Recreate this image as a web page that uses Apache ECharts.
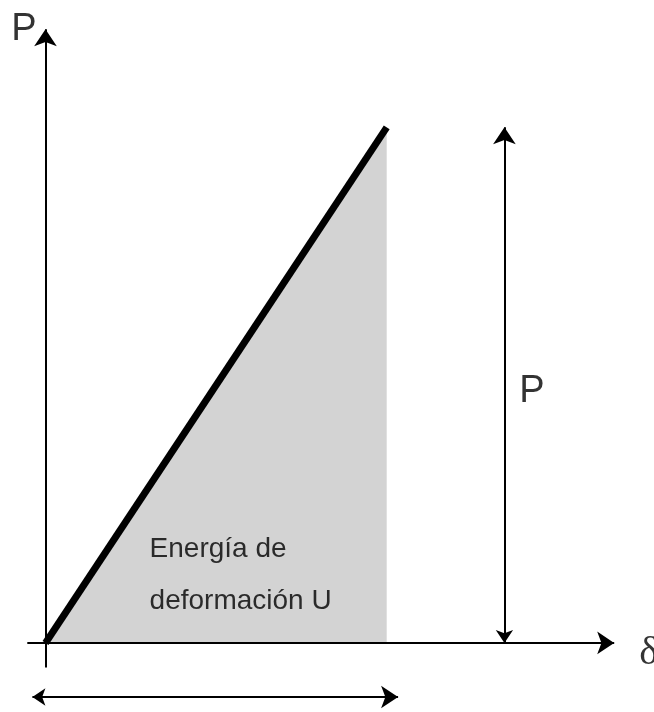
<!DOCTYPE html>
<html>
<head>
<meta charset="utf-8">
<script src="https://cdn.jsdelivr.net/npm/echarts@6/dist/echarts.min.js"></script>
<style>
  html, body { margin: 0; padding: 0; background: #fff; }
  #chart { width: 654px; height: 712px; }
</style>
</head>
<body>
<div id="chart"></div>
<script>
// Load–deformation diagram: linear loading up to P, strain energy is the area below.
const deformation = [0, 60];          // δ values of the loading line
const load = [0, 84];                 // P values of the loading line

const xAxisSpan = [-3.2, 100];        // drawn δ axis (with arrow)
const yAxisSpan = [-4, 100];          // drawn P axis (with arrow)

const pDimensionX = 80.7;             // vertical dimension arrow for P
const pDimensionSpan = [0, 84];
const deltaDimensionY = -8.8;         // horizontal dimension arrow for δ
const deltaDimensionSpan = [-2.3, 62];

const labelTexts = ['P', 'P', 'δ', 'Energía de\ndeformación U'];
const labelX = [-6.0, 83.3, 104.4, 18.3];
const labelY = [100.0, 40.9, -1.8, 11.0];
const labelSizes = [38, 38, 40, 28];

const loadLine = deformation.map((d, i) => [d, load[i]]);

const arrowLine = (coords, symbols) => ({
  type: 'lines',
  coordinateSystem: 'cartesian2d',
  silent: true,
  symbol: symbols,
  symbolSize: [13, 17],
  lineStyle: { color: '#000', width: 2, opacity: 1, curveness: 0 },
  data: [{ coords: coords }],
  z: 5
});

const sans = '"Liberation Sans", Arial, sans-serif';

const labelSeries = labelTexts.map((t, i) => ({
  type: 'scatter',
  silent: true,
  symbolSize: 0,
  data: [[labelX[i], labelY[i]]],
  z: 10,
  label: {
    show: true,
    position: 'inside',
    align: 'left',
    verticalAlign: 'middle',
    formatter: t,
    color: '#000',
    textBorderWidth: 0,
    fontFamily: i === 2 ? '"Liberation Serif", serif' : sans,
    fontSize: labelSizes[i],
    lineHeight: i === 3 ? 52 : undefined
  }
}));

const chart = echarts.init(document.getElementById('chart'), null, { renderer: 'canvas' });
chart.setOption({
  backgroundColor: '#ffffff',
  animation: false,
  grid: { left: 0, right: 0, top: 0, bottom: 0 },
  xAxis: {
    type: 'value', min: -8, max: 107,
    show: false
  },
  yAxis: {
    type: 'value', min: -11.25, max: 104.75,
    show: false
  },
  series: [
    {
      // strain energy area and loading line
      type: 'line',
      data: loadLine,
      symbol: 'none',
      silent: true,
      lineStyle: { color: '#000', width: 7, cap: 'butt' },
      areaStyle: { color: '#d3d3d3', opacity: 1, origin: 0 },
      z: 3
    },
    arrowLine([[xAxisSpan[0], 0], [xAxisSpan[1], 0]], ['none', 'arrow']),
    arrowLine([[0, yAxisSpan[0]], [0, yAxisSpan[1]]], ['none', 'arrow']),
    arrowLine([[pDimensionX, pDimensionSpan[0]], [pDimensionX, pDimensionSpan[1]]], ['arrow', 'arrow']),
    arrowLine([[deltaDimensionSpan[0], deltaDimensionY], [deltaDimensionSpan[1], deltaDimensionY]], ['arrow', 'arrow']),
    ...labelSeries
  ]
});
</script>
</body>
</html>
